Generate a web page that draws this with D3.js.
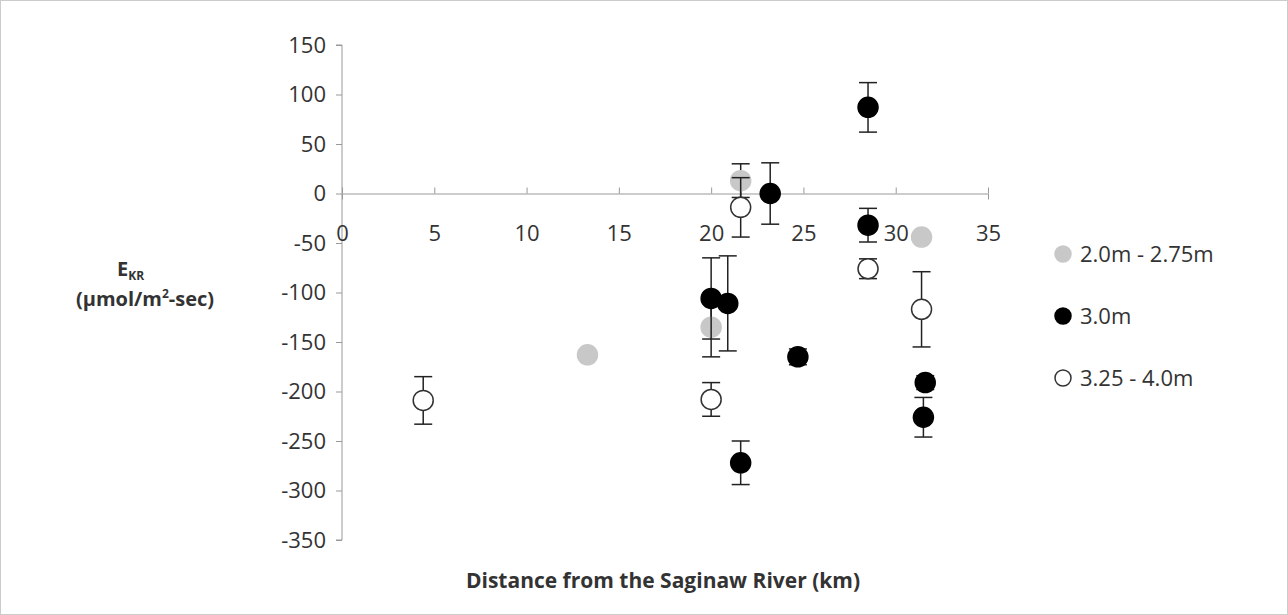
<!DOCTYPE html>
<html><head><meta charset="utf-8">
<script src="https://cdn.jsdelivr.net/npm/d3@7"></script>
<style>
body{margin:0;background:#fff;font-family:"Open Sans",sans-serif;}
</style></head><body>
<svg id="chart" width="1288" height="615"></svg>
<script>
// === DATA ===
const SERIES = ['2.0m - 2.75m', '3.0m', '3.25 - 4.0m'];
const FILLS = ['#c8c8c8', '#000', '#fff'];
const STROKES = ['#c8c8c8', '#000', '#333'];
// [km, value, error]
const shallow = [[13.3, -163, 0], [20.0, -135, 30], [21.6, 13, 17], [31.4, -44, 0]];
const mid = [[20.0, -106, 41], [20.9, -111, 48], [23.2, 0, 31], [28.5, 87, 25],
    [28.5, -32, 17], [24.7, -165, 8], [21.6, -272, 22], [31.6, -191, 7], [31.5, -226, 20]];
const deep = [[4.4, -209, 24], [20.0, -208, 17], [21.6, -14, 30], [28.5, -76, 10], [31.4, -117, 38]];
const DATA = [shallow, mid, deep];
const X_TICKS = [0, 5, 10, 15, 20, 25, 30, 35];
const Y_TICKS = [150, 100, 50, 0, -50, -100, -150, -200, -250, -300, -350];

const svg = d3.select('#chart');
svg.append('rect').attr('x', 0.5).attr('y', 0.5).attr('width', 1287).attr('height', 614)
    .attr('fill', '#fff').attr('stroke', '#ccc');

const x = d3.scaleLinear().domain([0, 35]).range([342, 988]);
const y = d3.scaleLinear().domain([-350, 150]).range([540, 45]);

// y axis
const ya = svg.append('g').attr('transform', `translate(${x(0)},0)`)
    .call(d3.axisLeft(y).tickValues(Y_TICKS).tickSize(6).tickPadding(10).tickFormat(d => String(d)));
// x axis at zero
const xa = svg.append('g').attr('transform', `translate(0,${y(0)})`)
    .call(d3.axisBottom(x).tickValues(X_TICKS).tickSize(6).tickPadding(26));
[ya, xa].forEach(a => {
    a.selectAll('path,line').attr('stroke', '#999');
    a.selectAll('text').attr('font-size', 22).attr('fill', '#333').attr('font-family', '"Open Sans",sans-serif');
});
xa.selectAll('.tick line').attr('y1', -6).attr('y2', 0);
ya.select('.domain').attr('d', `M-6,${y(-350)}H0V${y(150)}H-6`);

// points
DATA.forEach((pts, s) => {
    const g = svg.append('g');
    pts.filter(d => d[2] > 0).forEach(d => {
        const e = g.append('g').attr('stroke', '#222').attr('stroke-width', 1.5);
        e.append('line').attr('x1', x(d[0])).attr('x2', x(d[0])).attr('y1', y(d[1] - d[2])).attr('y2', y(d[1] + d[2]));
        [d[1] - d[2], d[1] + d[2]].forEach(v => e.append('line')
            .attr('x1', x(d[0]) - 9).attr('x2', x(d[0]) + 9).attr('y1', y(v)).attr('y2', y(v)));
    });
    g.selectAll('circle').data(pts).join('circle')
        .attr('cx', d => x(d[0])).attr('cy', d => y(d[1])).attr('r', 10)
        .attr('fill', FILLS[s]).attr('stroke', STROKES[s]).attr('stroke-width', 1.5);
});

// legend
SERIES.forEach((name, i) => {
    const ly = 254 + i * 62;
    svg.append('circle').attr('cx', 1063).attr('cy', ly).attr('r', 8)
        .attr('fill', FILLS[i]).attr('stroke', STROKES[i]).attr('stroke-width', 1.5);
    svg.append('text').attr('x', 1080).attr('y', ly + 8).attr('font-size', 22).attr('fill', '#333').text(name);
});

// axis titles
svg.append('text').attr('x', 663).attr('y', 588).attr('text-anchor', 'middle')
    .attr('font-size', 21).attr('font-weight', 'bold').attr('fill', '#333')
    .text('Distance from the Saginaw River (km)');
const t1 = svg.append('text').attr('x', 117).attr('y', 276).attr('font-size', 20)
    .attr('font-weight', 'bold').attr('fill', '#333');
t1.append('tspan').text('E');
t1.append('tspan').attr('font-size', 12).attr('dy', 4).text('KR');
const t2 = svg.append('text').attr('x', 145).attr('y', 306).attr('text-anchor', 'middle')
    .attr('font-size', 20).attr('font-weight', 'bold').attr('fill', '#333');
t2.append('tspan').text('(µmol/m');
t2.append('tspan').attr('font-size', 12).attr('dy', -8).text('2');
t2.append('tspan').attr('dy', 8).text('-sec)');
</script></body></html>
